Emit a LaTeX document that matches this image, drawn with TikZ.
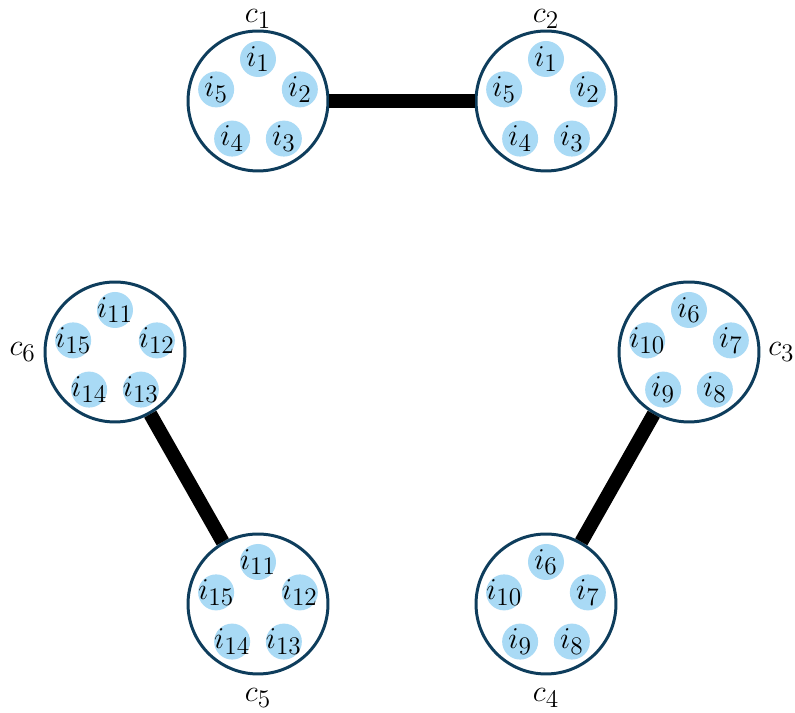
\documentclass[tikz,border=0pt]{standalone}
\usepackage{xcolor}
\usepackage{amsmath}
\usepackage{tikz}
\usetikzlibrary{calc}
\usetikzlibrary{positioning}
\definecolor{rimblue}{HTML}{0E3D5C}
\definecolor{itemblue}{HTML}{A9DAF5}

\begin{document}
\begin{tikzpicture}[x=0.02cm,y=0.02cm,
  cluster/.style={circle,draw=rimblue,line width=1.7pt,fill=white,minimum size=2.8cm,inner sep=0pt},
  item/.style={circle,fill=itemblue,minimum size=0.72cm,inner sep=-2.5pt,font=\fontsize{19}{22}\selectfont},
  link/.style={line width=0.28cm},
  every label/.style={font=\fontsize{19}{22}\selectfont,inner sep=0pt}]
  \useasboundingbox (0,0) rectangle (795,713);
  \node[cluster,label={[label distance=0.02cm]above:$c_1$}] (c1) at (258,612) {};
  \node[cluster,label={[label distance=0.02cm]above:$c_2$}] (c2) at (546,612) {};
  \node[cluster,label={[label distance=0.15cm]right:$c_3$}] (c3) at (689,361) {};
  \node[cluster,label={[label distance=0.25cm]below:$c_4$}] (c4) at (546,109) {};
  \node[cluster,label={[label distance=0.25cm]below:$c_5$}] (c5) at (258,109) {};
  \node[cluster,label={[label distance=0.15cm]left:$c_6$}] (c6) at (115,361) {};
  \path [link] (c1) edge (c2);
  \path [link] (c3) edge (c4);
  \path [link] (c6) edge (c5);
  % items inside c1 and c2
  \node[item] (c1-1) at ($(c1)+(0,-2)+(90:44)$) {$i_{1}$};
  \node[item] (c1-2) at ($(c1)+(0,-2)+(18:44)$) {$i_{2}$};
  \node[item] (c1-3) at ($(c1)+(0,-2)+(-54:44)$) {$i_{3}$};
  \node[item] (c1-4) at ($(c1)+(0,-2)+(-126:44)$) {$i_{4}$};
  \node[item] (c1-5) at ($(c1)+(0,-2)+(162:44)$) {$i_{5}$};
  \node[item] (c2-1) at ($(c2)+(0,-2)+(90:44)$) {$i_{1}$};
  \node[item] (c2-2) at ($(c2)+(0,-2)+(18:44)$) {$i_{2}$};
  \node[item] (c2-3) at ($(c2)+(0,-2)+(-54:44)$) {$i_{3}$};
  \node[item] (c2-4) at ($(c2)+(0,-2)+(-126:44)$) {$i_{4}$};
  \node[item] (c2-5) at ($(c2)+(0,-2)+(162:44)$) {$i_{5}$};
  % items inside c3 and c4
  \node[item] (c3-1) at ($(c3)+(0,-2)+(90:44)$) {$i_{6}$};
  \node[item] (c3-2) at ($(c3)+(0,-2)+(18:44)$) {$i_{7}$};
  \node[item] (c3-3) at ($(c3)+(0,-2)+(-54:44)$) {$i_{8}$};
  \node[item] (c3-4) at ($(c3)+(0,-2)+(-126:44)$) {$i_{9}$};
  \node[item] (c3-5) at ($(c3)+(0,-2)+(162:44)$) {$i_{10}$};
  \node[item] (c4-1) at ($(c4)+(0,-2)+(90:44)$) {$i_{6}$};
  \node[item] (c4-2) at ($(c4)+(0,-2)+(18:44)$) {$i_{7}$};
  \node[item] (c4-3) at ($(c4)+(0,-2)+(-54:44)$) {$i_{8}$};
  \node[item] (c4-4) at ($(c4)+(0,-2)+(-126:44)$) {$i_{9}$};
  \node[item] (c4-5) at ($(c4)+(0,-2)+(162:44)$) {$i_{10}$};
  % items inside c5 and c6
  \node[item] (c5-1) at ($(c5)+(0,-2)+(90:44)$) {$i_{11}$};
  \node[item] (c5-2) at ($(c5)+(0,-2)+(18:44)$) {$i_{12}$};
  \node[item] (c5-3) at ($(c5)+(0,-2)+(-54:44)$) {$i_{13}$};
  \node[item] (c5-4) at ($(c5)+(0,-2)+(-126:44)$) {$i_{14}$};
  \node[item] (c5-5) at ($(c5)+(0,-2)+(162:44)$) {$i_{15}$};
  \node[item] (c6-1) at ($(c6)+(0,-2)+(90:44)$) {$i_{11}$};
  \node[item] (c6-2) at ($(c6)+(0,-2)+(18:44)$) {$i_{12}$};
  \node[item] (c6-3) at ($(c6)+(0,-2)+(-54:44)$) {$i_{13}$};
  \node[item] (c6-4) at ($(c6)+(0,-2)+(-126:44)$) {$i_{14}$};
  \node[item] (c6-5) at ($(c6)+(0,-2)+(162:44)$) {$i_{15}$};
\end{tikzpicture}
\end{document}
